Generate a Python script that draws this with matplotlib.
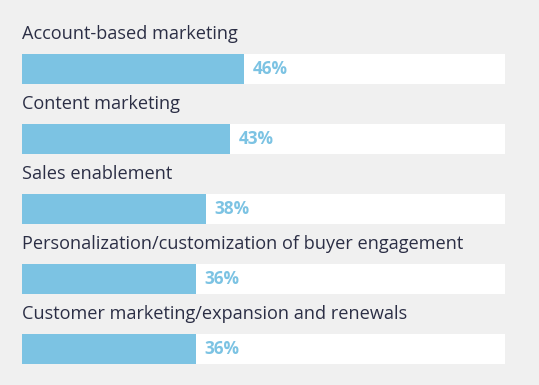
import matplotlib.pyplot as plt

categories = [
    "Account-based marketing",
    "Content marketing",
    "Sales enablement",
    "Personalization/customization of buyer engagement",
    "Customer marketing/expansion and renewals",
]
values = [46, 43, 38, 36, 36]

bg = "#f0f0f0"
blue = "#7cc3e3"
dark = "#2b2e45"

fig = plt.figure(figsize=(5.39, 3.85), dpi=100)
fig.patch.set_facecolor(bg)
ax = fig.add_axes([22 / 539, 0, 483 / 539, 1])
ax.set_facecolor(bg)

pos = list(range(len(categories)))
ax.barh(pos, [100] * len(pos), height=0.42, color="white")
ax.barh(pos, values, height=0.42, color=blue)

for i, (c, v) in enumerate(zip(categories, values)):
    ax.text(0, i - 0.50, c, ha="left", va="center", fontsize=13.1,
            color=dark, family="Open Sans")
    ax.text(v + 1.8, i, f"{v}%", ha="left", va="center", fontsize=12.4,
            color=blue, fontweight="bold", family="Open Sans")

ax.set_xlim(0, 100)
ax.set_ylim(4.514, -0.986)
ax.axis("off")

plt.savefig("out.png", facecolor=bg)
plt.close()
